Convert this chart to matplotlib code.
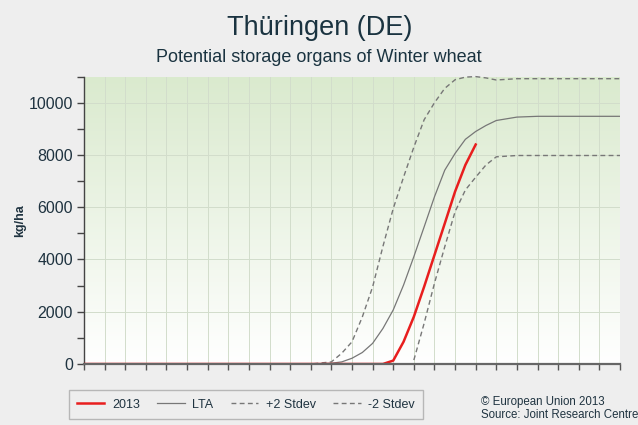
import numpy as np
import matplotlib
matplotlib.use("Agg")
import matplotlib.pyplot as plt
from matplotlib.ticker import MultipleLocator, FixedLocator, NullFormatter

plt.rcParams['font.family'] = ['Liberation Sans', 'DejaVu Sans']

nan = float('nan')

# ---- data: position in dekads (0 = Jan dekad 1 ... 26 = Sep dekad 3) ----
months = ["Jan", "Feb", "Mar", "Apr", "May", "Jun", "Jul", "Aug", "Sep"]
month_pos = [1, 4, 7, 10, 13, 16, 19, 22, 25]
dekad_ticks = list(range(27))

x = [0, 1, 2, 3, 4, 5, 6, 7, 8, 9, 10, 11,
     12, 12.5, 13, 13.5, 14, 14.5, 15, 15.5, 16, 16.5, 17, 17.5, 18, 18.5, 19, 19.5, 20,
     21, 22, 23, 24, 25, 26]

y2013 = [0, 0, 0, 0, 0, 0, 0, 0, 0, 0, 0, 0,
         0, 0, 0, 0, 0, 0, 130, 850, 1810, 2960, 4170, 5380, 6600, 7620, 8400, nan, nan,
         nan, nan, nan, nan, nan, nan]
lta = [0, 0, 0, 0, 0, 0, 0, 0, 0, 0, 0, 0,
       30, 80, 220, 440, 790, 1360, 2070, 3020, 4110, 5250, 6400, 7420, 8060, 8600, 8900, 9130, 9320,
       9450, 9480, 9480, 9480, 9480, 9480]
plus2 = [0, 0, 0, 0, 0, 0, 0, 0, 0, 0, 0, 0,
         80, 410, 850, 1800, 2950, 4500, 5950, 7150, 8300, 9350, 10000, 10550, 10880, 10980, 11000, 10950, 10870,
         10920, 10920, 10920, 10920, 10920, 10920]
minus2 = [nan, nan, nan, nan, nan, nan, nan, nan, nan, nan, nan, nan,
          nan, nan, nan, nan, nan, nan, nan, nan, 150, 1560, 3090, 4490, 5830, 6660, 7150, 7620, 7930,
          7980, 7980, 7980, 7980, 7980, 7980]

title = "Thüringen (DE)"
subtitle = "Potential storage organs of Winter wheat"

# ---- figure ----
fig = plt.figure(figsize=(6.38, 4.25), dpi=100)
fig.patch.set_facecolor("#eeeeee")
ax = fig.add_axes([84/638, 1-364/425, 536/638, (364-76.6)/425])
ax.set_facecolor("none")

# gradient background
top = np.array([218, 234, 206]) / 255.0
bot = np.array([255, 255, 255]) / 255.0
t = np.linspace(0, 1, 256)[:, None]
grad = (top[None, :] * (1 - t) + bot[None, :] * t)
grad = np.repeat(grad[:, None, :], 2, axis=1)
ax.imshow(grad, extent=[0, 1, 0, 1], transform=ax.transAxes, aspect='auto', zorder=0)

ax.set_xlim(0, 26)
ax.set_ylim(0, 11000)

# grid
for d in dekad_ticks:
    ax.axvline(d, color="#d2ddcb", lw=0.7, zorder=1)
for v in range(2000, 11000, 2000):
    ax.axhline(v, color="#d2ddcb", lw=0.7, zorder=1)

grey = "#777777"
dash = (0, (3.5, 2.4))
ax.plot(x, plus2, color=grey, lw=1.0, ls=dash, label="+2 Stdev", zorder=3, clip_on=False)
ax.plot(x, minus2, color=grey, lw=1.0, ls=dash, label="-2 Stdev", zorder=3)
ax.plot(x, lta, color=grey, lw=0.9, label="LTA", zorder=3)
ax.plot(x, y2013, color="#e81e1e", lw=1.8, label="2013", zorder=4)

for s in ["top", "right"]:
    ax.spines[s].set_visible(False)
ax.spines["left"].set_color("#444444")
ax.spines["left"].set_linewidth(1.0)
ax.spines["bottom"].set_color("#666666")
ax.spines["bottom"].set_linewidth(1.6)
ax.spines["bottom"].set_zorder(5)

# ticks
ax.xaxis.set_major_locator(FixedLocator(dekad_ticks))
ax.xaxis.set_major_formatter(NullFormatter())
ax.xaxis.set_minor_locator(FixedLocator(month_pos))
ax.set_xticklabels(months, minor=True)
ax.tick_params(axis="x", which="major", length=4, width=1, color="#555555", direction="out")
ax.tick_params(axis="x", which="minor", length=0, pad=8, labelsize=11.5, labelcolor="#1f3340")

ax.yaxis.set_major_locator(MultipleLocator(2000))
ax.yaxis.set_minor_locator(MultipleLocator(1000))
ax.tick_params(axis="y", which="major", length=5, width=1, color="#444444", labelsize=11.5,
               labelcolor="#1f3340", pad=3)
ax.tick_params(axis="y", which="minor", length=5, width=1, color="#444444")
ax.set_ylabel("kg/ha", fontsize=9, fontweight="bold", color="#1f3340", labelpad=2)

# titles
fig.text(320/638, 1-28/425, title, ha="center", va="center", fontsize=19.5, color="#1a3340")
fig.text(319/638, 1-57/425, subtitle, ha="center", va="center", fontsize=13, color="#1a3340")

# legend
h, l = ax.get_legend_handles_labels()
order = [3, 2, 0, 1]
leg = fig.legend([h[i] for i in order], [l[i] for i in order], ncol=4,
                 loc="center", bbox_to_anchor=((69+423)/2/638, 1-404.5/425),
                 frameon=True, fontsize=9, handlelength=2.2, columnspacing=1.4,
                 handletextpad=0.6, borderpad=0.65, fancybox=False)
leg.get_frame().set_edgecolor("#aaaaaa")
leg.get_frame().set_facecolor("#eeeeee")
leg.get_frame().set_linewidth(1.0)
for txt in leg.get_texts():
    txt.set_color("#1f3340")

fig.text(481/638, 1-402/425, "© European Union 2013", ha="left", va="center", fontsize=8.3, color="#1f3340")
fig.text(481/638, 1-415/425, "Source: Joint Research Centre", ha="left", va="center", fontsize=8.3, color="#1f3340")

fig.savefig("out.png", dpi=100, facecolor=fig.get_facecolor())
